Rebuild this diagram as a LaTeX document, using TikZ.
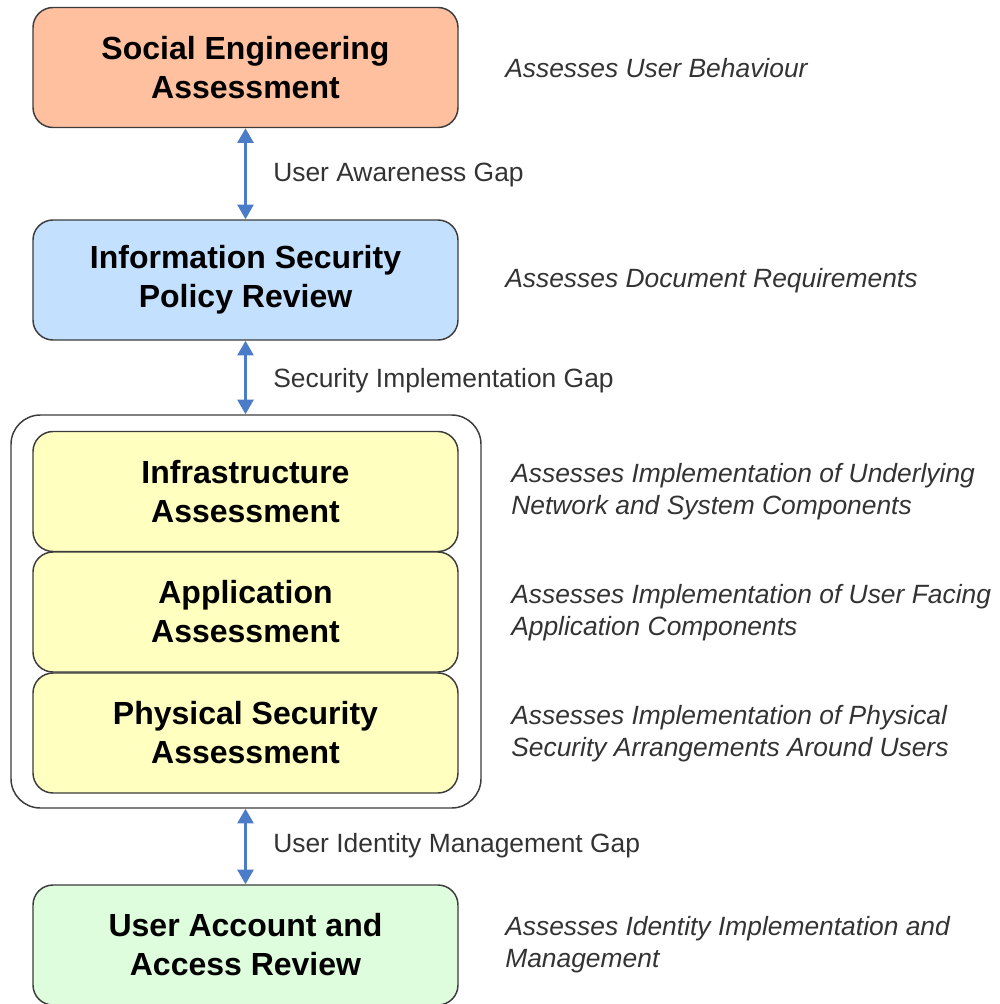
\documentclass[tikz,border=0pt]{standalone}
\usepackage{fontspec}
\setmainfont{Liberation Sans}
\usetikzlibrary{arrows.meta}
\definecolor{edgegray}{HTML}{3C3C3C}
\definecolor{salmon}{HTML}{FFC0A0}
\definecolor{skyfill}{HTML}{C4E0FF}
\definecolor{paleyellow}{HTML}{FFFFC0}
\definecolor{mintfill}{HTML}{DDFDDD}
\definecolor{arrowblue}{HTML}{4A7CC8}
\definecolor{txtgray}{HTML}{333333}
\tikzset{
  px/.style={x=0.75pt,y=-0.75pt},
  stagebox/.style={draw=edgegray, line width=1.1pt, rounded corners=15pt,
    minimum width=318.75pt, minimum height=90pt, align=center,
    font=\fontsize{24}{29.3}\selectfont\bfseries, text=black, inner sep=0pt},
  groupbox/.style={draw=edgegray, line width=1.1pt, rounded corners=22pt,
    minimum width=352.5pt, minimum height=294.75pt, inner sep=0pt},
  gaplabel/.style={anchor=west, font=\fontsize{19.8}{24}\selectfont, text=txtgray, inner sep=0pt},
  desc/.style={anchor=west, align=left, font=\fontsize{19.8}{24}\selectfont\itshape, text=txtgray, inner sep=0pt},
  gaparrow/.style={draw=arrowblue, line width=2pt,
    {Triangle[width=12pt,length=11pt]}-{Triangle[width=12pt,length=11pt]}}
}
\begin{document}
\begin{tikzpicture}[px]
\useasboundingbox (0,0) rectangle (1000,1004);

% outer frame around the implementation assessments
\node[groupbox] (grp) at (246,611.5) {};

% assessment stages
\node[stagebox, fill=salmon] (se) at (245.5,67.5) {Social Engineering\\Assessment};
\node[stagebox, fill=skyfill] (isp) at (245.5,280) {Information Security\\Policy Review};
\node[stagebox, fill=paleyellow] (infra) at (245.5,491.5) {Infrastructure\\Assessment};
\node[stagebox, fill=paleyellow] (app) at (245.5,612) {Application\\Assessment};
\node[stagebox, fill=paleyellow] (phys) at (245.5,733) {Physical Security\\Assessment};
\node[stagebox, fill=mintfill] (uar) at (245.5,945) {User Account and\\Access Review};

% gaps between stages
\draw[gaparrow] (se.south) -- (isp.north);
\draw[gaparrow] (isp.south) -- (isp.south |- grp.north);
\draw[gaparrow] (uar.north |- grp.south) -- (uar.north);

\node[gaplabel] (g1) at (273,175) {User Awareness Gap};
\node[gaplabel] (g2) at (273,381) {Security Implementation Gap};
\node[gaplabel] (g3) at (273,846) {User Identity Management Gap};

% descriptions
\node[desc] (d1) at (505,68) {Assesses User Behaviour};
\node[desc] (d2) at (505,281) {Assesses Document Requirements};
\node[desc] (d3) at (511,492) {Assesses Implementation of Underlying\\Network and System Components};
\node[desc] (d4) at (511,613) {Assesses Implementation of User Facing\\Application Components};
\node[desc] (d5) at (511,734) {Assesses Implementation of Physical\\Security Arrangements Around Users};
\node[desc] (d6) at (505,945) {Assesses Identity Implementation and\\Management};
\end{tikzpicture}
\end{document}
